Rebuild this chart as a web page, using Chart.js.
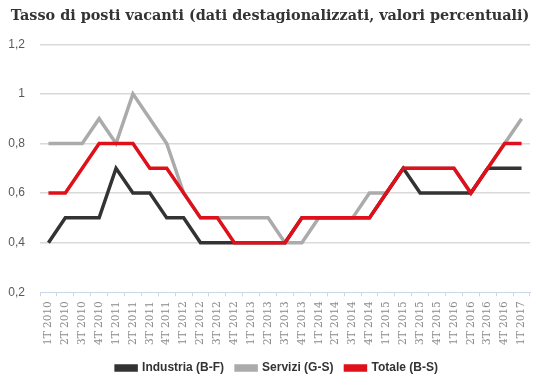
<!DOCTYPE html>
<html lang="it">

<head>
  <meta charset="UTF-8">
  <title>Tasso di posti vacanti</title>
  <script src="https://cdn.jsdelivr.net/npm/chart.js"></script>
</head>
<style>
  body {
    margin: 0;
    background: #ffffff;
  }

  #grafico {
    width: 540px !important;
    height: 387px !important;
  }
</style>

<body>
  <canvas id="grafico" width="540" height="387"></canvas>
</body>
<script>
  // trimestri
  const trimestri = [
    '1T 2010', '2T 2010', '3T 2010', '4T 2010',
    '1T 2011', '2T 2011', '3T 2011', '4T 2011',
    '1T 2012', '2T 2012', '3T 2012', '4T 2012',
    '1T 2013', '2T 2013', '3T 2013', '4T 2013',
    '1T 2014', '2T 2014', '3T 2014', '4T 2014',
    '1T 2015', '2T 2015', '3T 2015', '4T 2015',
    '1T 2016', '2T 2016', '3T 2016', '4T 2016',
    '1T 2017'
  ]

  const industria = [0.4, 0.5, 0.5, 0.5, 0.7, 0.6, 0.6, 0.5, 0.5, 0.4, 0.4, 0.4, 0.4, 0.4, 0.4, 0.5,
    0.5, 0.5, 0.5, 0.5, 0.6, 0.7, 0.6, 0.6, 0.6, 0.6, 0.7, 0.7, 0.7]
  const servizi = [0.8, 0.8, 0.8, 0.9, 0.8, 1.0, 0.9, 0.8, 0.6, 0.5, 0.5, 0.5, 0.5, 0.5, 0.4, 0.4,
    0.5, 0.5, 0.5, 0.6, 0.6, 0.7, 0.7, 0.7, 0.7, 0.6, 0.7, 0.8, 0.9]
  const totale = [0.6, 0.6, 0.7, 0.8, 0.8, 0.8, 0.7, 0.7, 0.6, 0.5, 0.5, 0.4, 0.4, 0.4, 0.4, 0.5,
    0.5, 0.5, 0.5, 0.5, 0.6, 0.7, 0.7, 0.7, 0.7, 0.6, 0.7, 0.8, 0.8]

  // etichette asse y
  const etichetteY = ['0,2', '0,4', '0,6', '0,8', '1', '1,2']

  // sposta un po' legenda e titolo verso destra, come nell'originale
  const sposta = {
    id: 'sposta',
    afterLayout: (chart) => {
      chart.legend.left += 12
      chart.legend.right += 12
      chart.titleBlock.left += 5
      chart.titleBlock.right += 5
    }
  }

  const ctx = document.getElementById('grafico').getContext('2d');
  const chart = new Chart(ctx, {
    type: 'line',
    data: {
      labels: trimestri,
      datasets: [{
        label: 'Industria (B-F)',
        data: industria,
        borderColor: '#333333',
        backgroundColor: '#333333',
        order: 1
      }, {
        label: 'Servizi (G-S)',
        data: servizi,
        borderColor: '#ababab',
        backgroundColor: '#ababab',
        order: 2
      }, {
        label: 'Totale (B-S)',
        data: totale,
        borderColor: '#e0101b',
        backgroundColor: '#e0101b',
        order: 0
      }]
    },
    plugins: [sposta],
    options: {
      responsive: false,
      animation: false,
      elements: {
        line: { borderWidth: 3.5, tension: 0, borderJoinStyle: 'miter' },
        point: { radius: 0 }
      },
      layout: { padding: { left: 0, right: 10, top: 0, bottom: 3 } },
      plugins: {
        title: {
          display: true,
          text: 'Tasso di posti vacanti (dati destagionalizzati, valori percentuali)',
          color: '#333333',
          font: { family: 'DejaVu Serif', size: 14.4, weight: 'bold' },
          padding: { top: 8, bottom: 19 }
        },
        legend: {
          position: 'bottom',
          labels: {
            boxWidth: 20,
            boxHeight: 4,
            padding: 12,
            color: '#333333',
            font: { family: 'Liberation Sans', size: 12, weight: 'bold' },
            sort: (a, b) => a.datasetIndex - b.datasetIndex
          }
        },
        tooltip: { enabled: false }
      },
      scales: {
        x: {
          offset: true,
          grid: {
            offset: true,
            drawOnChartArea: false,
            color: '#c9d7e6',
            tickLength: 4
          },
          border: { color: '#c9d7e6', width: 1 },
          ticks: {
            autoSkip: false,
            maxRotation: 90,
            minRotation: 90,
            padding: 5,
            color: '#8a8a8a',
            font: { family: 'DejaVu Serif', size: 10.5 }
          }
        },
        y: {
          min: 0.2,
          max: 1.2,
          afterFit: (scale) => { scale.width = 40 },
          grid: {
            drawTicks: false,
            lineWidth: 1.5,
            color: (c) => c.index === 0 ? 'rgba(0,0,0,0)' : '#d9d9d9'
          },
          border: { display: false },
          ticks: {
            stepSize: 0.2,
            padding: 15,
            color: '#595959',
            font: { family: 'Liberation Sans', size: 12 },
            callback: (v, i) => etichetteY[i]
          }
        }
      }
    }
  });
</script>

</html>
